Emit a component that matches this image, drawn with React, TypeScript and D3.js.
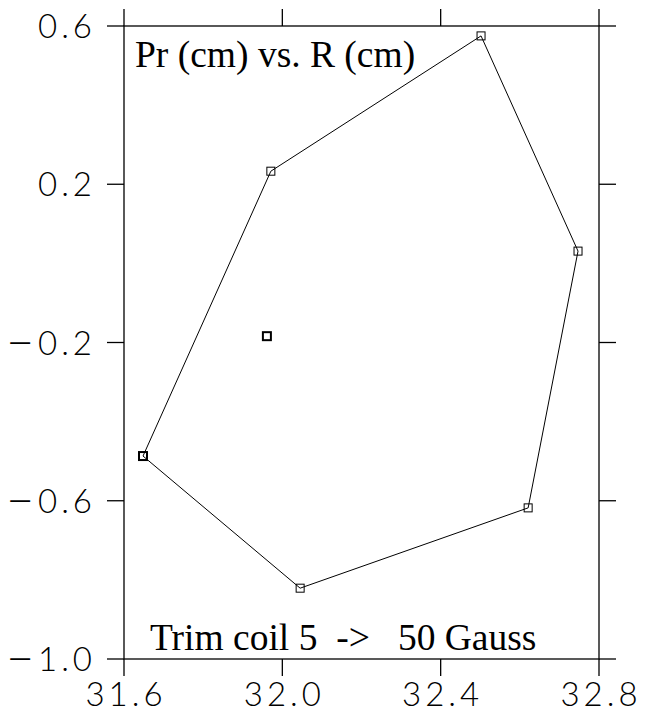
import React, { useRef, useEffect } from "react";
import * as d3 from "d3";

const W = 649;
const H = 714;
const BOX = { left: 124, right: 599, top: 26, bottom: 659 };

// polygon vertices (R cm, Pr cm), closed back to first
const rVals = [32.502, 32.747, 32.621, 32.045, 31.648, 31.971];
const prVals = [0.575, 0.031, -0.618, -0.821, -0.487, 0.233];
const centerR = [31.961];
const centerPr = [-0.184];

const xTicks = [31.6, 32.0, 32.4, 32.8];
const yTicks = [0.6, 0.2, -0.2, -0.6, -1.0];

const TITLE = "Pr (cm) vs. R (cm)";
const NOTE = "Trim coil 5  ->   50 Gauss";

export default function App() {
  const svgRef = useRef<SVGSVGElement>(null);

  useEffect(() => {
    const svg = d3.select(svgRef.current);
    svg.selectAll("*").remove();

    const x = d3.scaleLinear().domain([31.6, 32.8]).range([BOX.left, BOX.right]);
    const y = d3.scaleLinear().domain([-1.0, 0.6]).range([BOX.bottom, BOX.top]);
    const tick = 17;
    const fmt = d3.format(".1f");

    // frame
    svg.append("rect")
      .attr("x", BOX.left).attr("y", BOX.top)
      .attr("width", BOX.right - BOX.left).attr("height", BOX.bottom - BOX.top)
      .attr("fill", "none").attr("stroke", "#000").attr("stroke-width", 1.3);

    // ticks outward on all four sides
    const tg = svg.append("g").attr("stroke", "#000").attr("stroke-width", 1.3);
    xTicks.forEach((v) => {
      tg.append("line").attr("x1", x(v)).attr("x2", x(v))
        .attr("y1", BOX.bottom).attr("y2", BOX.bottom + tick);
      tg.append("line").attr("x1", x(v)).attr("x2", x(v))
        .attr("y1", BOX.top).attr("y2", BOX.top - tick);
    });
    yTicks.forEach((v) => {
      tg.append("line").attr("y1", y(v)).attr("y2", y(v))
        .attr("x1", BOX.left).attr("x2", BOX.left - tick);
      tg.append("line").attr("y1", y(v)).attr("y2", y(v))
        .attr("x1", BOX.right).attr("x2", BOX.right + tick);
    });

    // tick labels (thin, widely spaced)
    const lab = svg.append("g")
      .attr("font-family", "Lato, sans-serif")
      .attr("font-weight", 300)
      .attr("font-size", 33)
      .attr("letter-spacing", 4)
      .attr("fill", "#000");
    xTicks.forEach((v) => {
      lab.append("text").attr("x", x(v) + 2).attr("y", 706)
        .attr("text-anchor", "middle").text(fmt(v));
    });
    yTicks.forEach((v) => {
      const t = lab.append("text").attr("x", 96).attr("y", y(v) + 12)
        .attr("text-anchor", "end");
      if (v < 0) {
        // long minus like the original plotter font
        t.append("tspan").attr("font-size", 48).attr("dy", 4).text("\u2212");
        t.append("tspan").attr("dy", -4).text(fmt(-v));
      } else {
        t.text(fmt(v));
      }
    });

    // polygon
    const pts: [number, number][] = rVals.map((r, i) => [x(r), y(prVals[i])]);
    const line = d3.line();
    svg.append("path")
      .attr("d", line([...pts, pts[0]]))
      .attr("fill", "none").attr("stroke", "#000").attr("stroke-width", 1);

    const s = 8;
    svg.append("g").selectAll("rect").data(pts).join("rect")
      .attr("x", (d) => d[0] - s / 2).attr("y", (d) => d[1] - s / 2)
      .attr("width", s).attr("height", s)
      .attr("fill", "none").attr("stroke", "#000")
      .attr("stroke-width", (_d, i) => (i === 4 ? 2 : 1));

    svg.append("g").selectAll("rect").data(centerR).join("rect")
      .attr("x", (d) => x(d) - s / 2).attr("y", (_d, i) => y(centerPr[i]) - s / 2)
      .attr("width", s).attr("height", s)
      .attr("fill", "none").attr("stroke", "#000").attr("stroke-width", 2);

    // annotations
    const serif = "'Liberation Serif', 'Times New Roman', serif";
    svg.append("text").attr("x", 135).attr("y", 67)
      .attr("font-family", serif)
      .attr("font-size", 37.5).attr("fill", "#000").text(TITLE);
    svg.append("text").attr("x", 150).attr("y", 650)
      .attr("font-family", serif)
      .attr("font-size", 37.5).attr("fill", "#000")
      .style("white-space", "pre").text(NOTE);
  }, []);

  return (
    <svg
      ref={svgRef}
      width={W}
      height={H}
      style={{ position: "absolute", left: 0, top: 0, background: "#fff" }}
    />
  );
}
